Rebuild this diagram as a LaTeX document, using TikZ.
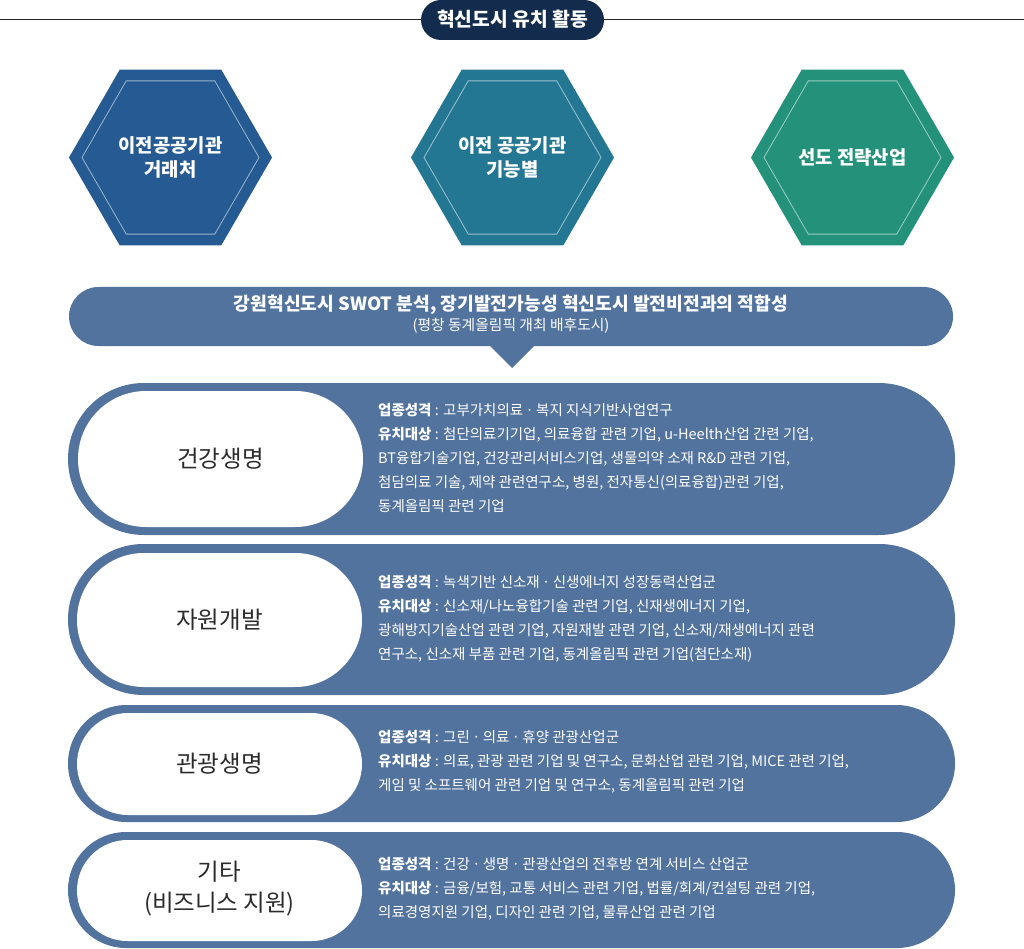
\documentclass[tikz,border=0pt]{standalone}
\usepackage{fontspec}
\newfontfamily\kr{Noto Sans CJK KR}
\usetikzlibrary{shapes.geometric}
\definecolor{navy}{HTML}{132B4D}
\definecolor{hexA}{HTML}{255A92}
\definecolor{hexB}{HTML}{237793}
\definecolor{hexC}{HTML}{24917A}
\definecolor{steel}{HTML}{52739E}
\definecolor{darktxt}{HTML}{2B2B2B}
\tikzset{
  hexa/.style={regular polygon, regular polygon sides=6, minimum size=203pt, inner sep=0pt, draw=none},
  hexin/.style={regular polygon, regular polygon sides=6, minimum size=177pt, inner sep=0pt, draw=white, draw opacity=0.55, line width=0.8pt},
  hextext/.style={text=white, align=center, font=\kr\bfseries\fontsize{18.8}{24}\selectfont},
  rowtext/.style={text=white, align=left, anchor=west, inner sep=0pt, font=\kr\fontsize{14.5}{24}\selectfont},
  pilllabel/.style={text=darktxt, align=center, font=\kr\fontsize{23.5}{31}\selectfont}
}
\begin{document}
\begin{tikzpicture}[x=1pt,y=-1pt]
\useasboundingbox (0,0) rectangle (1024,949);
\fill[white] (0,0) rectangle (1024,949);

% title
\coordinate (lineL) at (0,20);
\coordinate (lineR) at (1024,20);
\fill[navy, rounded corners=20pt] (421,0) rectangle (604,40);
\node[text=white, font=\kr\bfseries\fontsize{19.3}{21}\selectfont] (title) at (512.5,19.5) {혁신도시 유치 활동};
\draw[line width=1pt, black!85] (lineL) -- (421,20);
\draw[line width=1pt, black!85] (604,20) -- (lineR);

% hexagons
\node[hexa, fill=hexA] (h1) at (170.5,157.5) {};
\node[hexin] (h1i) at (h1.center) {};
\node[hextext] (t1) at (h1.center) {이전공공기관\\거래처};
\node[hexa, fill=hexB] (h2) at (512.5,157.5) {};
\node[hexin] (h2i) at (h2.center) {};
\node[hextext] (t2) at (h2.center) {이전 공공기관\\기능별};
\node[hexa, fill=hexC] (h3) at (852.5,157.5) {};
\node[hexin] (h3i) at (h3.center) {};
\node[hextext] (t3) at (h3.center) {선도 전략산업};

% banner
\fill[steel, rounded corners=29.5pt] (69,287) rectangle (953,346);
\fill[steel] (489,345) -- (512,368) -- (535,345) -- cycle;
\node[text=white, font=\kr\bfseries\fontsize{18.2}{20}\selectfont] (ban1) at (511,305) {강원혁신도시 SWOT 분석, 장기발전가능성 혁신도시 발전비전과의 적합성};
\node[text=white, font=\kr\fontsize{14.8}{16}\selectfont] (ban2) at (511,326) {(평창 동계올림픽 개최 배후도시)};

% row 1
\fill[steel, rounded corners=76pt] (68,383) rectangle (955,535);
\fill[white, rounded corners=68pt] (78,391) rectangle (363,527);
\node[pilllabel] (l1) at (220.5,459) {건강생명};
\node[rowtext] (r1) at (378,457.5) {\textbf{업종성격} : 고부가치의료\,·\,복지 지식기반사업연구\\
\textbf{유치대상} : 첨단의료기기업, 의료융합 관련 기업, u-Heelth산업 간련 기업,\\
BT융합기술기업, 건강관리서비스기업, 생물의약 소재 R\&D 관련 기업,\\
첨담의료 기술, 제약 관련연구소, 병원, 전자통신(의료융합)관련 기업,\\
동계올림픽 관련 기업};

% row 2
\fill[steel, rounded corners=75.5pt] (68,544) rectangle (955,695);
\fill[white, rounded corners=67pt] (77,553) rectangle (362,687);
\node[pilllabel] (l2) at (219.5,620) {자원개발};
\node[rowtext] (r2) at (378,619) {\textbf{업종성격} : 녹색기반 신소재\,·\,신생에너지 성장동력산업군\\
\textbf{유치대상} : 신소재/나노융합기술 관련 기업, 신재생에너지 기업,\\
광해방지기술산업 관련 기업, 자원재발 관련 기업, 신소재/재생에너지 관련\\
연구소, 신소재 부품 관련 기업, 동계올림픽 관련 기업(첨단소재)};

% row 3
\fill[steel, rounded corners=58.5pt] (68,705) rectangle (955,822);
\fill[white, rounded corners=51pt] (77,713) rectangle (362,815);
\node[pilllabel] (l3) at (219.5,764) {관광생명};
\node[rowtext] (r3) at (378,762) {\textbf{업종성격} : 그린\,·\,의료\,·\,휴양 관광산업군\\
\textbf{유치대상} : 의료, 관광 관련 기업 및 연구소, 문화산업 관련 기업, MICE 관련 기업,\\
게임 및 소프트웨어 관련 기업 및 연구소, 동계올림픽 관련 기업};

% row 4
\fill[steel, rounded corners=58pt] (68,832) rectangle (955,948);
\fill[white, rounded corners=50.5pt] (77,840) rectangle (362,941);
\node[pilllabel] (l4) at (219.5,889) {기타\\(비즈니스 지원)};
\node[rowtext] (r4) at (378,888.5) {\textbf{업종성격} : 건강\,·\,생명\,·\,관광산업의 전후방 연계 서비스 산업군\\
\textbf{유치대상} : 금융/보험, 교통 서비스 관련 기업, 법률/회계/컨설팅 관련 기업,\\
의료경영지원 기업, 디자인 관련 기업, 물류산업 관련 기업};
\end{tikzpicture}
\end{document}
